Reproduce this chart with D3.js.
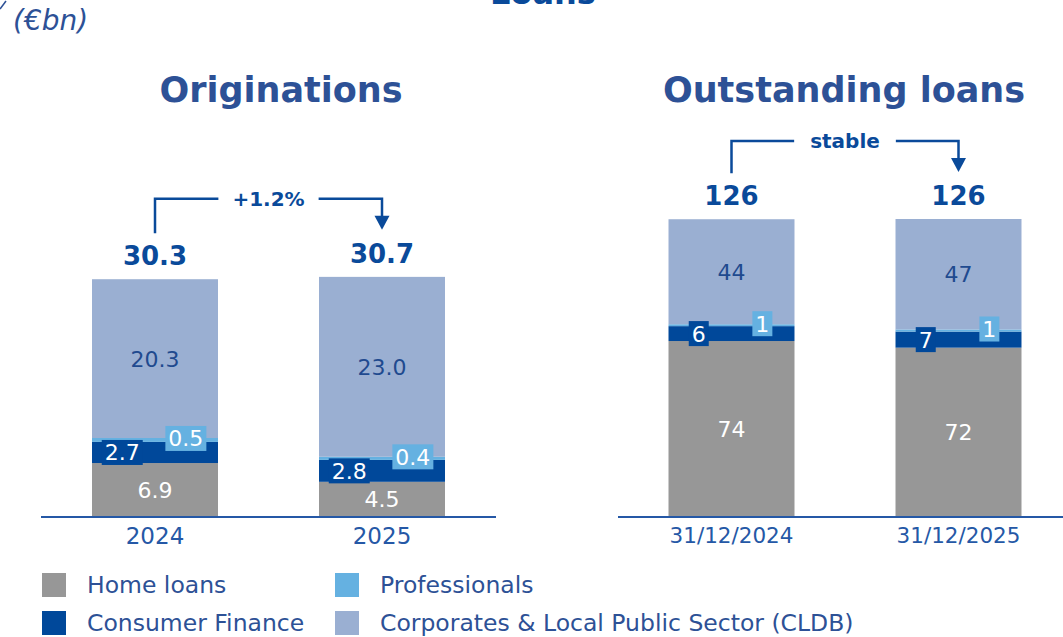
<!DOCTYPE html>
<html lang="en">

<head>
    <meta charset="utf-8">
    <title>Loans</title>
    <script type="text/javascript" src="https://cdn.jsdelivr.net/npm/d3@7"></script>
    <style type="text/css">
    body {
        margin: 0;
        background: #fff;
    }
    text {
        font-family: "DejaVu Sans", sans-serif;
    }
    </style>
</head>

<body>
    <script type="text/javascript">
    //svg size
    var w = 1063;
    var h = 637;

    //data - originations (€bn)
    var origCats = ['2024', '2025'];
    var origHome = [6.9, 4.5];
    var origConsumer = [2.7, 2.8];
    var origPro = [0.5, 0.4];
    var origCldb = [20.3, 23.0];
    var origTotals = ['30.3', '30.7'];
    var origChange = '+1.2%';

    //data - outstanding loans (€bn), unrounded estimates, shown rounded
    var outCats = ['31/12/2024', '31/12/2025'];
    var outHome = [74.4, 71.6];
    var outConsumer = [6.3, 6.8];
    var outPro = [0.8, 0.9];
    var outCldb = [44.4, 46.7];
    var outTotals = ['126', '126'];
    var outChange = 'stable';

    var seriesNames = ['Home loans', 'Consumer Finance', 'Professionals', 'Corporates & Local Public Sector (CLDB)'];
    var seriesKeys = ['home', 'consumer', 'pro', 'cldb'];

    //Colors
    var color = d3.scaleOrdinal()
        .domain(seriesKeys)
        .range(['#979797', '#00489a', '#65b1e1', '#9aafd2']);
    var navy = '#0a4a9a';
    var titleBlue = '#2d5196';
    var tickBlue = '#2558a6';

    var svg = d3.select('body')
        .append('svg')
        .attr('width', w)
        .attr('height', h);

    //small corner stroke and cut-off page title
    svg.append('line')
        .attr('x1', 0).attr('y1', 9).attr('x2', 6).attr('y2', 1)
        .attr('stroke', titleBlue).attr('stroke-width', 1.5);
    svg.append('text')
        .attr('x', 543).attr('y', 4)
        .attr('text-anchor', 'middle')
        .attr('font-size', 32).attr('font-weight', 'bold')
        .attr('fill', navy)
        .text('Loans');

    svg.append('text')
        .attr('x', 13).attr('y', 30)
        .attr('font-size', 28).attr('font-style', 'italic')
        .attr('fill', titleBlue)
        .text('(€bn)');

    function buildRows(cats, home, consumer, pro, cldb) {
        return cats.map(function(c, i) {
            return { cat: c, home: home[i], consumer: consumer[i], pro: pro[i], cldb: cldb[i] };
        });
    }

    function drawPanel(opt) {
        var g = svg.append('g');
        var rows = buildRows(opt.cats, opt.home, opt.consumer, opt.pro, opt.cldb);
        var stack = d3.stack().keys(seriesKeys)(rows);

        var x = d3.scaleBand()
            .domain(opt.cats)
            .range(opt.xRange)
            .paddingInner(0.445)
            .paddingOuter(0.2225);
        var y = d3.scaleLinear()
            .domain([0, opt.yMax])
            .range([517, opt.yTop]);

        //title
        g.append('text')
            .attr('x', opt.titleX).attr('y', 102)
            .attr('text-anchor', 'middle')
            .attr('font-size', 35).attr('font-weight', 'bold')
            .attr('fill', titleBlue)
            .text(opt.title);

        //bars
        var layers = g.selectAll('g.layer')
            .data(stack)
            .enter()
            .append('g')
            .attr('class', 'layer')
            .attr('fill', function(d) { return color(d.key); });

        layers.selectAll('rect')
            .data(function(d) { return d; })
            .enter()
            .append('rect')
            .attr('x', function(d) { return x(d.data.cat); })
            .attr('y', function(d) { return y(d[1]); })
            .attr('width', x.bandwidth())
            .attr('height', function(d) { return y(d[0]) - y(d[1]); });

        //segment labels
        stack.forEach(function(layer) {
            layer.forEach(function(d) {
                var key = layer.key;
                var val = d.data[key];
                var txt = opt.fmt(val);
                var mid = (y(d[0]) + y(d[1])) / 2;
                var x0 = x(d.data.cat);
                var bw = x.bandwidth();
                if (key === 'home' || key === 'cldb') {
                    g.append('text')
                        .attr('x', x0 + bw / 2).attr('y', mid)
                        .attr('dy', '0.36em')
                        .attr('text-anchor', 'middle')
                        .attr('font-size', 22)
                        .attr('fill', key === 'home' ? '#fff' : '#1f4a8f')
                        .text(txt);
                } else {
                    var cx = key === 'consumer' ? x0 + bw * 0.24 : x0 + bw * 0.745;
                    var cy = key === 'consumer' ? mid : mid - 1.5;
                    var t = g.append('text')
                        .attr('x', cx).attr('y', cy)
                        .attr('dy', '0.36em')
                        .attr('text-anchor', 'middle')
                        .attr('font-size', 22)
                        .attr('fill', '#fff')
                        .text(txt);
                    var tw = t.node().getComputedTextLength();
                    g.insert('rect', function() { return t.node(); })
                        .attr('x', cx - tw / 2 - 3).attr('y', cy - 12.5)
                        .attr('width', tw + 6).attr('height', 25)
                        .attr('fill', color(key));
                }
            });
        });

        //axis
        var axis = g.append('g')
            .attr('transform', 'translate(0,517)')
            .call(d3.axisBottom(x).tickSize(0).tickPadding(11));
        axis.select('.domain')
            .attr('d', 'M' + opt.axisX[0] + ',0H' + opt.axisX[1])
            .attr('stroke', tickBlue).attr('stroke-width', 2);
        axis.selectAll('text')
            .attr('font-size', opt.tickSize)
            .attr('font-family', '"DejaVu Sans", sans-serif')
            .attr('fill', tickBlue);

        //totals
        var tops = rows.map(function(r) { return y(r.home + r.consumer + r.pro + r.cldb); });
        g.selectAll('text.total')
            .data(opt.totals)
            .enter()
            .append('text')
            .attr('class', 'total')
            .attr('x', function(d, i) { return x(opt.cats[i]) + x.bandwidth() / 2; })
            .attr('y', function(d, i) { return tops[i] - 14; })
            .attr('text-anchor', 'middle')
            .attr('font-size', 26).attr('font-weight', 'bold')
            .attr('fill', navy)
            .text(function(d) { return d; });

        //change arrow
        var xa = x(opt.cats[0]) + x.bandwidth() / 2;
        var xb = x(opt.cats[1]) + x.bandwidth() / 2;
        var lineY = d3.min(tops) - 78;
        var startY = tops[0] - 46;
        var tipY = tops[1] - 47;
        var xm = (xa + xb) / 2;
        var lbl = g.append('text')
            .attr('x', xm).attr('y', lineY)
            .attr('dy', '0.36em')
            .attr('text-anchor', 'middle')
            .attr('font-size', 20).attr('font-weight', 'bold')
            .attr('fill', navy)
            .text(opt.change);
        var lw = lbl.node().getComputedTextLength();
        var gap = lw / 2 + opt.gapPad;
        g.append('path')
            .attr('d', 'M' + xa + ',' + startY + 'V' + lineY + 'H' + (xm - gap))
            .attr('fill', 'none').attr('stroke', navy).attr('stroke-width', 2.5);
        g.append('path')
            .attr('d', 'M' + (xm + gap) + ',' + lineY + 'H' + xb + 'V' + (tipY - 12))
            .attr('fill', 'none').attr('stroke', navy).attr('stroke-width', 2.5);
        g.append('path')
            .attr('d', 'M' + (xb - 7.5) + ',' + (tipY - 14) + 'L' + (xb + 7.5) + ',' + (tipY - 14) + 'L' + xb + ',' + tipY + 'Z')
            .attr('fill', navy);
    }

    drawPanel({
        title: 'Originations', titleX: 281,
        cats: origCats, home: origHome, consumer: origConsumer, pro: origPro, cldb: origCldb,
        totals: origTotals, change: origChange,
        xRange: [41.5, 495.5], axisX: [41, 496],
        yMax: 30.3, yTop: 280,
        gapPad: 14, tickSize: 23,
        fmt: d3.format('.1f')
    });

    drawPanel({
        title: 'Outstanding loans', titleX: 844,
        cats: outCats, home: outHome, consumer: outConsumer, pro: outPro, cldb: outCldb,
        totals: outTotals, change: outChange,
        xRange: [618, 1072], axisX: [618, 1063],
        yMax: 126, yTop: 219,
        gapPad: 16, tickSize: 21.5,
        fmt: d3.format('.0f')
    });

    //legend
    var legendPos = [[42, 573], [42, 611], [335, 573], [335, 611]];
    var legend = svg.selectAll('g.legend')
        .data(seriesKeys)
        .enter()
        .append('g')
        .attr('class', 'legend')
        .attr('transform', function(d, i) { return 'translate(' + legendPos[i][0] + ',' + legendPos[i][1] + ')'; });
    legend.append('rect')
        .attr('width', 24).attr('height', 24)
        .attr('fill', function(d) { return color(d); });
    legend.append('text')
        .attr('x', 45).attr('y', 12)
        .attr('dy', '0.36em')
        .attr('font-size', 23.5)
        .attr('fill', titleBlue)
        .text(function(d, i) { return seriesNames[i]; });
    </script>
</body>
</html>
